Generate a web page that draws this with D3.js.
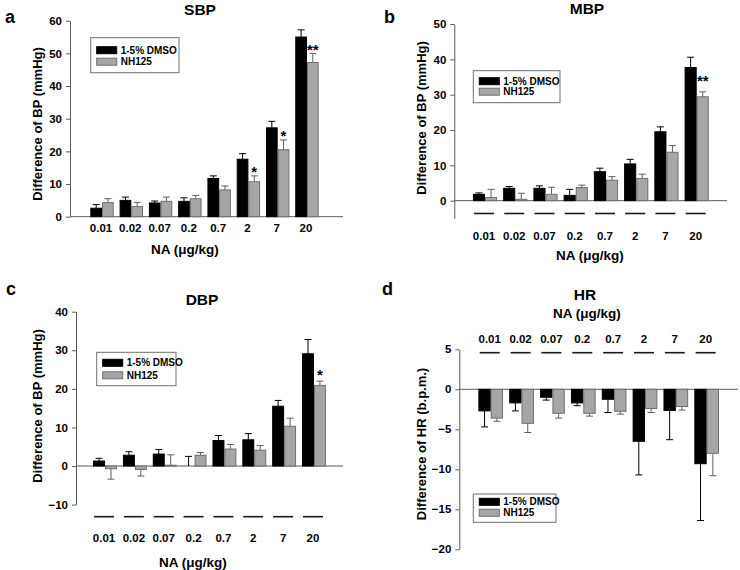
<!DOCTYPE html>
<html><head><meta charset="utf-8">
<script src="https://cdn.jsdelivr.net/npm/d3@7"></script>
<style>
body{margin:0;background:#fff;}
text{font-family:"Liberation Sans",Arial,sans-serif;font-weight:bold;fill:#000;}
</style>
</head><body>
<svg id="chart" width="740" height="570"></svg>
<script>
// ---------- data ----------
const categories = ["0.01","0.02","0.07","0.2","0.7","2","7","20"];
const seriesNames = ["1-5% DMSO","NH125"];

// SBP (panel a)
const sbpDmso    = [2.6, 5.0, 4.2, 4.7, 11.7, 17.6, 27.2, 55.0];
const sbpDmsoErr = [1.1, 1.0, 0.6, 1.1, 0.8, 1.7, 2.0, 2.2];
const sbpNh      = [4.3, 3.1, 4.7, 5.5, 8.2, 10.7, 20.5, 47.2];
const sbpNhErr   = [1.2, 1.3, 1.3, 1.0, 1.2, 1.8, 3.0, 2.8];
const sbpSig     = ["","","","","","*","*","**"];

// MBP (panel b)
const mbpDmso    = [1.8, 3.5, 3.5, 1.5, 8.2, 10.4, 19.5, 37.7];
const mbpDmsoErr = [0.4, 0.5, 0.7, 1.7, 1.0, 1.3, 1.4, 2.9];
const mbpNh      = [0.9, 0.4, 1.8, 3.7, 5.8, 6.3, 13.7, 29.4];
const mbpNhErr   = [2.3, 1.7, 2.0, 0.7, 1.0, 1.2, 1.9, 1.4];
const mbpSig     = ["","","","","","","","**"];

// DBP (panel c)
const dbpDmso    = [1.3, 2.8, 3.1, 0.0, 6.6, 6.8, 15.5, 29.1];
const dbpDmsoErr = [0.7, 0.9, 1.2, 2.5, 1.3, 1.6, 1.5, 3.7];
const dbpNh      = [-0.7, -0.9, 0.2, 2.8, 4.4, 4.1, 10.3, 20.9];
const dbpNhErr   = [2.7, 1.7, 2.7, 0.7, 1.2, 1.2, 2.1, 1.1];
const dbpSig     = ["","","","","","","","*"];

// HR (panel d)
const hrDmso     = [-2.7, -1.7, -1.0, -1.7, -1.25, -6.5, -2.65, -9.3];
const hrDmsoErr  = [2.0, 1.0, 0.35, 0.35, 1.65, 4.2, 3.65, 7.1];
const hrNh       = [-3.6, -4.25, -3.0, -3.0, -2.75, -2.4, -2.15, -8.0];
const hrNhErr    = [0.4, 1.15, 0.6, 0.35, 0.35, 0.5, 0.45, 2.8];
const hrSig      = ["","","","","","","",""];

// tick values
const sbpTicks = [0,10,20,30,40,50,60];
const mbpTicks = [0,10,20,30,40,50];
const dbpTicks = [-10,0,10,20,30,40];
const hrTicks  = [-20,-15,-10,-5,0,5];

// ---------- drawing ----------
const svg = d3.select("#chart");
const BLACK = "#000000", GRAY = "#a6a6a6", GRAY_STROKE = "#6f6f6f", AXIS = "#5a5a5a";

function drawPanel(p) {
  const g = svg.append("g");
  const y = d3.scaleLinear().domain(p.domain).range(p.yRange);
  const x = d3.scaleBand().domain(categories).range(p.xRange).paddingInner(0.2).paddingOuter(0.1);
  const sub = d3.scaleBand().domain([0,1]).range([0, x.bandwidth()]);

  // y axis
  const ax = g.append("g").attr("transform", `translate(${p.axisX},0)`)
    .call(d3.axisLeft(y).tickValues(p.ticks).tickSize(4).tickSizeOuter(0).tickPadding(4).tickFormat(d3.format("d")));
  ax.select(".domain").attr("stroke", AXIS);
  ax.selectAll(".tick line").attr("stroke", AXIS);
  ax.selectAll(".tick text").attr("font-size", 11.5).attr("font-family", '"Liberation Sans",Arial,sans-serif').attr("font-weight","bold").attr("fill","#000");

  // zero line
  g.append("line").attr("x1", p.axisX).attr("x2", p.zeroEnd)
    .attr("y1", y(0)).attr("y2", y(0)).attr("stroke", AXIS).attr("stroke-width", 1);

  const series = [
    {vals: p.s1, errs: p.e1, fill: BLACK, stroke: BLACK, err: BLACK},
    {vals: p.s2, errs: p.e2, fill: GRAY, stroke: GRAY_STROKE, err: "#5f5f5f"}
  ];

  series.forEach((s, si) => {
    categories.forEach((c, j) => {
      const v = s.vals[j], e = s.errs[j];
      const dir = v < 0 ? -1 : 1;
      const end = v + dir * e;
      const cx = x(c) + sub(si) + sub.bandwidth() / 2;
      g.append("line").attr("x1", cx).attr("x2", cx).attr("y1", y(v)).attr("y2", y(end))
        .attr("stroke", s.err).attr("stroke-width", 1);
      g.append("line").attr("x1", cx - 3.5).attr("x2", cx + 3.5).attr("y1", y(end)).attr("y2", y(end))
        .attr("stroke", s.err).attr("stroke-width", 1);
    });
    g.selectAll(null).data(categories).enter().append("rect")
      .attr("x", c => x(c) + sub(si) + 0.5)
      .attr("width", sub.bandwidth() - 1)
      .attr("y", (c, j) => Math.min(y(0), y(s.vals[j])))
      .attr("height", (c, j) => Math.abs(y(0) - y(s.vals[j])))
      .attr("fill", s.fill).attr("stroke", s.stroke).attr("stroke-width", 1);
  });

  // significance marks
  categories.forEach((c, j) => {
    const mark = p.sig[j];
    if (!mark) return;
    const top = p.s2[j] + p.e2[j];
    const cx = x(c) + sub(1) + sub.bandwidth() / 2;
    g.append("text").attr("x", cx).attr("y", y(top) - 2 + p.sigOffset)
      .attr("text-anchor", "middle").attr("font-size", 15).text(mark);
  });

  // category separator lines
  if (p.lineY != null) {
    categories.forEach(c => {
      const cx = x(c) + x.bandwidth() / 2 - 1;
      g.append("line").attr("x1", cx - 10).attr("x2", cx + 10)
        .attr("y1", p.lineY).attr("y2", p.lineY).attr("stroke", "#1a1a1a").attr("stroke-width", 1.6);
    });
  }

  // category labels
  g.selectAll(null).data(categories).enter().append("text")
    .attr("x", c => x(c) + x.bandwidth() / 2 - 1)
    .attr("y", p.catY).attr("text-anchor", "middle").attr("font-size", 11.5).text(c => c);

  // x axis title
  g.append("text").attr("x", p.xTitle[0]).attr("y", p.xTitle[1]).attr("text-anchor", "middle")
    .attr("font-size", 13.5).text("NA (\u03bcg/kg)");

  // y axis title
  g.append("text").attr("transform", `translate(${p.yTitle[0]},${p.yTitle[1]}) rotate(-90)`)
    .attr("text-anchor", "middle").attr("font-size", 13).text(p.yLabel);

  // panel title
  g.append("text").attr("x", p.title[0]).attr("y", p.title[1]).attr("text-anchor", "middle")
    .attr("font-size", 15.5).text(p.titleText);

  // panel letter
  g.append("text").attr("x", p.letter[0]).attr("y", p.letter[1]).attr("font-size", 18).text(p.letterText);

  // legend
  const L = p.legend;
  const lg = g.append("g").attr("transform", `translate(${L.x},${L.y})`);
  lg.append("rect").attr("width", L.w).attr("height", L.h).attr("fill", "#fff").attr("stroke", "#707070").attr("stroke-width", 1);
  seriesNames.forEach((n, i) => {
    const ry = L.row0 + i * L.gap;
    lg.append("rect").attr("x", 6).attr("y", ry - 3.5).attr("width", 20).attr("height", 7)
      .attr("fill", series[i].fill).attr("stroke", series[i].stroke).attr("stroke-width", 1);
    lg.append("text").attr("x", 30).attr("y", ry + 3.5).attr("font-size", 10).text(n);
  });
}

drawPanel({
  titleText: "SBP", letterText: "a", yLabel: "Difference of BP (mmHg)",
  s1: sbpDmso, e1: sbpDmsoErr, s2: sbpNh, e2: sbpNhErr, sig: sbpSig, sigOffset: 3.5,
  ticks: sbpTicks, domain: [0, 60], yRange: [216.7, 20.7], axisX: 70, zeroEnd: 343,
  xRange: [87.4, 321.6], catY: 232, xTitle: [185, 254], yTitle: [42, 124],
  title: [200, 15], letter: [5, 23], lineY: null,
  legend: {x: 90.7, y: 37.7, w: 88.3, h: 35, row0: 12.5, gap: 11.5}
});

drawPanel({
  titleText: "MBP", letterText: "b", yLabel: "Difference of BP (mmHg)",
  s1: mbpDmso, e1: mbpDmsoErr, s2: mbpNh, e2: mbpNhErr, sig: mbpSig, sigOffset: -3.5,
  ticks: mbpTicks, domain: [-5, 50], yRange: [218.35, 24], axisX: 454.3, zeroEnd: 727,
  xRange: [469.9, 711.8], catY: 240, xTitle: [590, 260], yTitle: [426, 118],
  title: [587, 14], letter: [384, 23], lineY: 213.5,
  legend: {x: 473.3, y: 70.7, w: 86.7, h: 32, row0: 10.5, gap: 10.5}
});

drawPanel({
  titleText: "DBP", letterText: "c", yLabel: "Difference of BP (mmHg)",
  s1: dbpDmso, e1: dbpDmsoErr, s2: dbpNh, e2: dbpNhErr, sig: dbpSig, sigOffset: 1,
  ticks: dbpTicks, domain: [-10, 40], yRange: [504.6, 311.7], axisX: 76, zeroEnd: 343,
  xRange: [90.1, 328.9], catY: 542, xTitle: [193, 567], yTitle: [42, 406],
  title: [202, 305], letter: [6, 295], lineY: 516.7,
  legend: {x: 96.7, y: 352.3, w: 79.3, h: 33.4, row0: 10.5, gap: 12.5}
});

drawPanel({
  titleText: "HR", letterText: "d", yLabel: "Difference of HR (b.p.m.)",
  s1: hrDmso, e1: hrDmsoErr, s2: hrNh, e2: hrNhErr, sig: hrSig, sigOffset: 0,
  ticks: hrTicks, domain: [-20, 5], yRange: [549.3, 349.3], axisX: 459.3, zeroEnd: 738,
  xRange: [475.3, 722.1], catY: 343, xTitle: [587, 318], yTitle: [426, 444],
  title: [585, 300], letter: [382, 295], lineY: 352.7,
  legend: {x: 473.3, y: 494, w: 82.7, h: 28.3, row0: 7.8, gap: 11}
});
</script>
</body></html>
